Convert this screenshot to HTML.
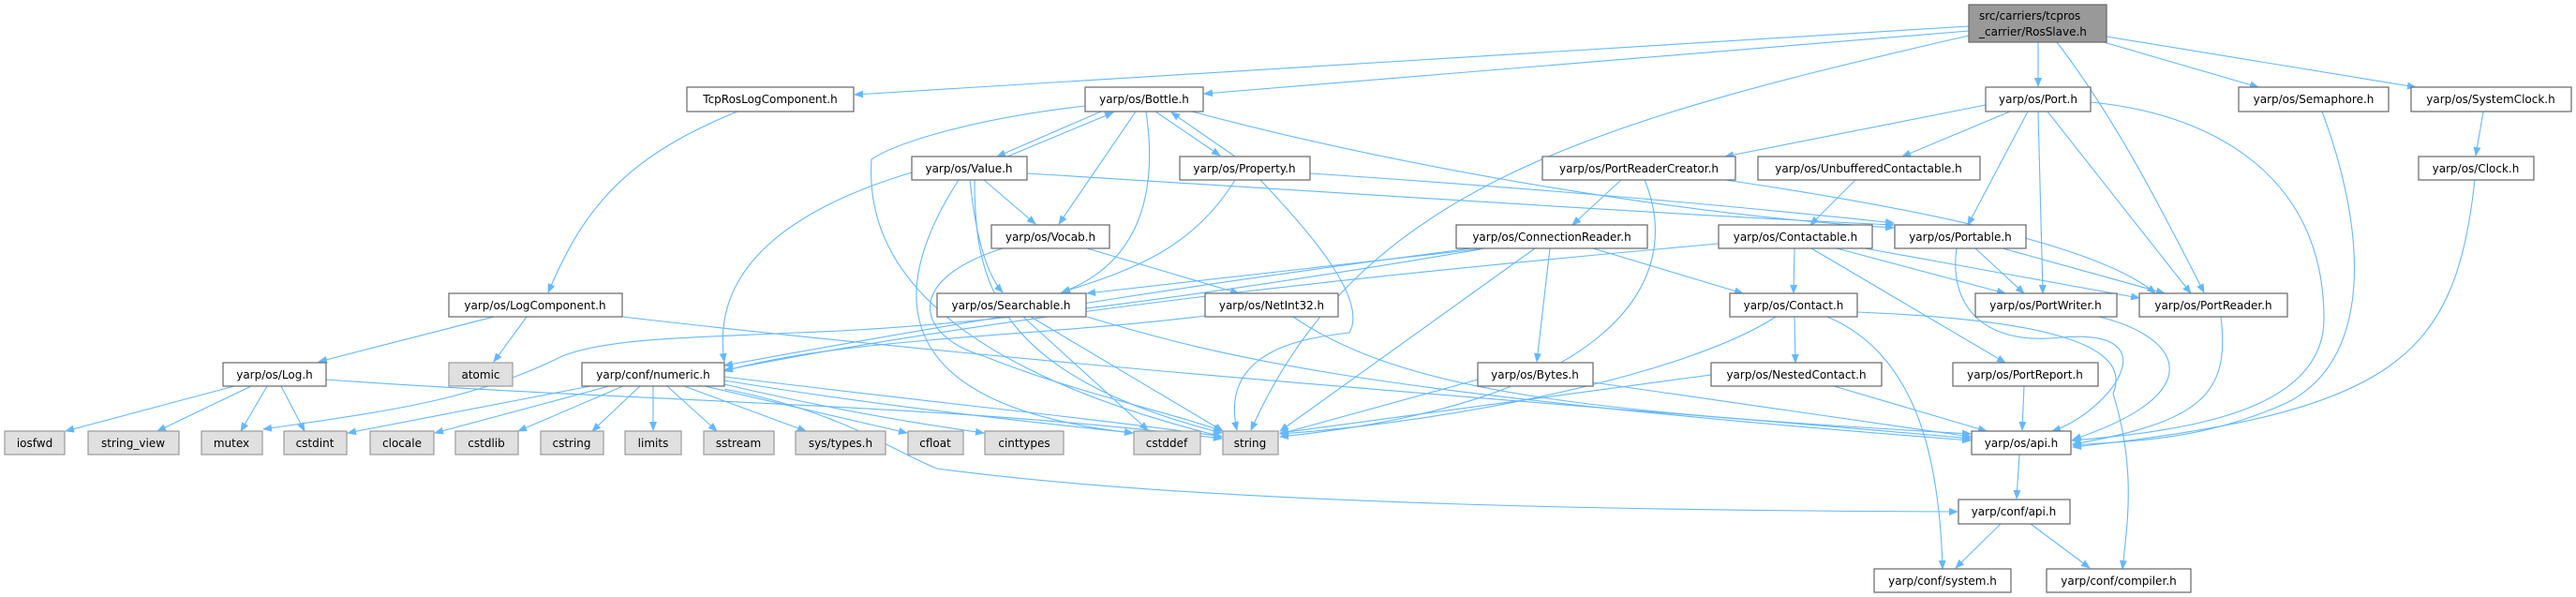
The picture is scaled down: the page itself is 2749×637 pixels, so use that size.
<!DOCTYPE html>
<html><head><meta charset="utf-8"><style>
html,body{margin:0;padding:0;background:#fff;}
svg{display:block;}
text{font-family:"DejaVu Sans","Liberation Sans",sans-serif;font-size:12px;fill:#000;}
.n{fill:#fff;stroke:#666;stroke-width:1.2;}
.s{fill:#e0e0e0;stroke:#999;stroke-width:1.2;}
.e{fill:none;stroke:#63b8ff;stroke-width:1.1;marker-end:url(#a);}
</style></head><body>
<svg width="2749" height="637" viewBox="0 0 2749 637" xmlns="http://www.w3.org/2000/svg">
<defs><marker id="a" markerWidth="10" markerHeight="8" refX="9" refY="4" orient="auto" markerUnits="userSpaceOnUse"><path d="M0,0 L10,4 L0,8 z" fill="#63b8ff"/></marker></defs>
<g>
<path class="e" d="M2101,28 L912,101"/>
<path class="e" d="M2101,33 L1285,100"/>
<path class="e" d="M2101,38 C1700,130 1450,200 1335,459"/>
<path class="e" d="M2175,45 L2175,92"/>
<path class="e" d="M2195,45 C2260,130 2310,230 2352,312"/>
<path class="e" d="M2245,45 L2410,93"/>
<path class="e" d="M2248,39 L2578,93"/>
<path class="e" d="M787,119 C660,170 620,230 585,312"/>
<path class="e" d="M527,338 L340,386"/>
<path class="e" d="M562,338 L527,386"/>
<path class="e" d="M664,338 C1200,400 1800,440 2103,468"/>
<path class="e" d="M250,412 L70,460"/>
<path class="e" d="M268,412 L168,460"/>
<path class="e" d="M285,412 L257,460"/>
<path class="e" d="M300,412 L325,460"/>
<path class="e" d="M348,405 C700,430 1000,430 1304,468"/>
<path class="e" d="M630,412 L371,462"/>
<path class="e" d="M650,412 L464,462"/>
<path class="e" d="M665,412 L553,460"/>
<path class="e" d="M683,412 L632,460"/>
<path class="e" d="M697,412 L697,459"/>
<path class="e" d="M712,412 L765,460"/>
<path class="e" d="M730,412 L860,460"/>
<path class="e" d="M752,412 L968,462"/>
<path class="e" d="M773,410 C900,440 1000,455 1050,462"/>
<path class="e" d="M773,406 C950,435 1100,450 1209,462"/>
<path class="e" d="M773,402 C1000,430 1200,450 1304,466"/>
<path class="e" d="M773,415 C900,440 950,480 1000,500 C1300,540 1800,545 2089,546"/>
<path class="e" d="M1175,119 L1064,167"/>
<path class="e" d="M1075,167 L1188,120"/>
<path class="e" d="M1233,119 L1302,166"/>
<path class="e" d="M1318,167 L1250,120"/>
<path class="e" d="M1212,119 L1130,239"/>
<path class="e" d="M1223,119 C1235,200 1220,280 1133,312"/>
<path class="e" d="M1158,113 C1050,125 960,150 930,170 C925,250 960,380 1304,466"/>
<path class="e" d="M1272,119 C1500,180 1800,230 2021,243"/>
<path class="e" d="M973,184 C820,230 760,300 773,386"/>
<path class="e" d="M1050,192 L1105,239"/>
<path class="e" d="M1035,192 C1040,240 1050,290 1070,312"/>
<path class="e" d="M1023,192 C960,290 920,430 1209,462"/>
<path class="e" d="M1040,192 C1040,300 1060,400 1304,462"/>
<path class="e" d="M1096,185 C1500,210 1800,230 2021,240"/>
<path class="e" d="M1318,192 C1270,270 1200,290 1133,312"/>
<path class="e" d="M1345,192 C1400,250 1460,320 1440,355 C1400,360 1300,370 1320,459"/>
<path class="e" d="M1398,185 C1700,205 1900,225 2021,238"/>
<path class="e" d="M1070,265 C960,300 980,360 1050,380 C1150,420 1250,440 1304,460"/>
<path class="e" d="M1160,265 L1322,313"/>
<path class="e" d="M1092,338 L1225,459"/>
<path class="e" d="M1100,338 L1305,460"/>
<path class="e" d="M1160,338 C1300,380 1450,420 2103,470"/>
<path class="e" d="M1286,337 C1100,360 900,360 773,396"/>
<path class="e" d="M1380,338 C1500,420 1700,440 2103,463"/>
<path class="e" d="M1585,265 L1160,313"/>
<path class="e" d="M1570,265 C1300,300 1100,330 773,390"/>
<path class="e" d="M1580,266 C1200,330 1000,350 850,355 C750,360 650,360 600,380 C500,430 400,440 281,458"/>
<path class="e" d="M1700,265 L1860,313"/>
<path class="e" d="M1654,265 L1640,386"/>
<path class="e" d="M1638,265 L1366,460"/>
<path class="e" d="M1730,192 L1678,240"/>
<path class="e" d="M1755,192 C1800,300 1720,430 1366,466"/>
<path class="e" d="M1841,192 C2100,230 2250,270 2300,313"/>
<path class="e" d="M2119,112 L1841,167"/>
<path class="e" d="M2145,119 L2030,167"/>
<path class="e" d="M2164,119 L2100,240"/>
<path class="e" d="M2175,119 L2180,313"/>
<path class="e" d="M2185,119 L2338,313"/>
<path class="e" d="M2231,109 C2350,120 2480,180 2480,340 C2480,440 2330,460 2211,470"/>
<path class="e" d="M1980,192 L1932,240"/>
<path class="e" d="M1834,260 C1500,290 1100,330 773,395"/>
<path class="e" d="M1915,265 L1914,313"/>
<path class="e" d="M1960,265 L2140,313"/>
<path class="e" d="M1990,265 L2283,318"/>
<path class="e" d="M1933,265 L2140,387"/>
<path class="e" d="M2108,265 L2160,313"/>
<path class="e" d="M2137,265 L2310,313"/>
<path class="e" d="M2088,265 C2080,320 2110,370 2200,360 C2320,350 2250,440 2190,460"/>
<path class="e" d="M1915,338 L1916,387"/>
<path class="e" d="M1895,338 C1800,400 1550,450 1366,463"/>
<path class="e" d="M1950,338 C2050,380 2070,500 2073,607"/>
<path class="e" d="M1982,333 C2150,340 2280,360 2255,420 C2280,500 2270,560 2265,607"/>
<path class="e" d="M1826,400 L1366,462"/>
<path class="e" d="M1957,412 L2120,460"/>
<path class="e" d="M2160,412 L2158,459"/>
<path class="e" d="M2240,338 C2330,360 2360,420 2212,469"/>
<path class="e" d="M2370,338 C2380,420 2350,450 2212,474"/>
<path class="e" d="M2478,119 C2520,230 2540,380 2440,430 C2350,470 2280,470 2212,475"/>
<path class="e" d="M2650,119 L2642,166"/>
<path class="e" d="M2641,192 C2620,380 2560,440 2212,477"/>
<path class="e" d="M1577,405 L1366,463"/>
<path class="e" d="M1700,408 L2103,466"/>
<path class="e" d="M2155,485 L2152,532"/>
<path class="e" d="M2135,559 L2087,606"/>
<path class="e" d="M2167,559 L2230,606"/>
</g>
<g>
<rect class="n" x="2101" y="5" width="147" height="40" style="fill:#999"/>
<text x="2112" y="21">src/carriers/tcpros</text><text x="2112" y="38">_carrier/RosSlave.h</text>
<rect class="n" x="733" y="93" width="178" height="26"/><text x="822" y="110" text-anchor="middle">TcpRosLogComponent.h</text>
<rect class="n" x="1158" y="93" width="126" height="26"/><text x="1221" y="110" text-anchor="middle">yarp/os/Bottle.h</text>
<rect class="n" x="2119" y="93" width="112" height="26"/><text x="2175" y="110" text-anchor="middle">yarp/os/Port.h</text>
<rect class="n" x="2389" y="93" width="160" height="26"/><text x="2469" y="110" text-anchor="middle">yarp/os/Semaphore.h</text>
<rect class="n" x="2573" y="93" width="171" height="26"/><text x="2658" y="110" text-anchor="middle">yarp/os/SystemClock.h</text>
<rect class="n" x="973" y="167" width="123" height="25"/><text x="1034" y="184" text-anchor="middle">yarp/os/Value.h</text>
<rect class="n" x="1259" y="167" width="139" height="25"/><text x="1328" y="184" text-anchor="middle">yarp/os/Property.h</text>
<rect class="n" x="1646" y="167" width="206" height="25"/><text x="1749" y="184" text-anchor="middle">yarp/os/PortReaderCreator.h</text>
<rect class="n" x="1876" y="167" width="237" height="25"/><text x="1994" y="184" text-anchor="middle">yarp/os/UnbufferedContactable.h</text>
<rect class="n" x="2581" y="167" width="123" height="25"/><text x="2642" y="184" text-anchor="middle">yarp/os/Clock.h</text>
<rect class="n" x="1058" y="240" width="126" height="25"/><text x="1121" y="257" text-anchor="middle">yarp/os/Vocab.h</text>
<rect class="n" x="1554" y="240" width="204" height="25"/><text x="1656" y="257" text-anchor="middle">yarp/os/ConnectionReader.h</text>
<rect class="n" x="1834" y="240" width="164" height="25"/><text x="1916" y="257" text-anchor="middle">yarp/os/Contactable.h</text>
<rect class="n" x="2022" y="240" width="140" height="25"/><text x="2092" y="257" text-anchor="middle">yarp/os/Portable.h</text>
<rect class="n" x="479" y="313" width="185" height="25"/><text x="571" y="330" text-anchor="middle">yarp/os/LogComponent.h</text>
<rect class="n" x="1000" y="313" width="159" height="25"/><text x="1079" y="330" text-anchor="middle">yarp/os/Searchable.h</text>
<rect class="n" x="1286" y="313" width="142" height="25"/><text x="1357" y="330" text-anchor="middle">yarp/os/NetInt32.h</text>
<rect class="n" x="1846" y="313" width="136" height="25"/><text x="1914" y="330" text-anchor="middle">yarp/os/Contact.h</text>
<rect class="n" x="2108" y="313" width="151" height="25"/><text x="2183" y="330" text-anchor="middle">yarp/os/PortWriter.h</text>
<rect class="n" x="2283" y="313" width="158" height="25"/><text x="2362" y="330" text-anchor="middle">yarp/os/PortReader.h</text>
<rect class="n" x="238" y="387" width="110" height="25"/><text x="293" y="404" text-anchor="middle">yarp/os/Log.h</text>
<rect class="s" x="479" y="387" width="68" height="25"/><text x="513" y="404" text-anchor="middle">atomic</text>
<rect class="n" x="621" y="387" width="152" height="25"/><text x="697" y="404" text-anchor="middle">yarp/conf/numeric.h</text>
<rect class="n" x="1577" y="387" width="123" height="25"/><text x="1638" y="404" text-anchor="middle">yarp/os/Bytes.h</text>
<rect class="n" x="1826" y="387" width="182" height="25"/><text x="1917" y="404" text-anchor="middle">yarp/os/NestedContact.h</text>
<rect class="n" x="2084" y="387" width="155" height="25"/><text x="2161" y="404" text-anchor="middle">yarp/os/PortReport.h</text>
<rect class="s" x="5" y="460" width="64" height="25"/><text x="37" y="477" text-anchor="middle">iosfwd</text>
<rect class="s" x="94" y="460" width="97" height="25"/><text x="142" y="477" text-anchor="middle">string_view</text>
<rect class="s" x="215" y="460" width="65" height="25"/><text x="247" y="477" text-anchor="middle">mutex</text>
<rect class="s" x="303" y="460" width="67" height="25"/><text x="336" y="477" text-anchor="middle">cstdint</text>
<rect class="s" x="395" y="460" width="68" height="25"/><text x="429" y="477" text-anchor="middle">clocale</text>
<rect class="s" x="486" y="460" width="67" height="25"/><text x="519" y="477" text-anchor="middle">cstdlib</text>
<rect class="s" x="577" y="460" width="67" height="25"/><text x="610" y="477" text-anchor="middle">cstring</text>
<rect class="s" x="667" y="460" width="60" height="25"/><text x="697" y="477" text-anchor="middle">limits</text>
<rect class="s" x="751" y="460" width="75" height="25"/><text x="788" y="477" text-anchor="middle">sstream</text>
<rect class="s" x="849" y="460" width="96" height="25"/><text x="897" y="477" text-anchor="middle">sys/types.h</text>
<rect class="s" x="969" y="460" width="59" height="25"/><text x="998" y="477" text-anchor="middle">cfloat</text>
<rect class="s" x="1051" y="460" width="84" height="25"/><text x="1093" y="477" text-anchor="middle">cinttypes</text>
<rect class="s" x="1210" y="460" width="71" height="25"/><text x="1245" y="477" text-anchor="middle">cstddef</text>
<rect class="s" x="1305" y="460" width="59" height="25"/><text x="1334" y="477" text-anchor="middle">string</text>
<rect class="n" x="2104" y="460" width="106" height="25"/><text x="2157" y="477" text-anchor="middle">yarp/os/api.h</text>
<rect class="n" x="2090" y="533" width="119" height="26"/><text x="2149" y="550" text-anchor="middle">yarp/conf/api.h</text>
<rect class="n" x="2000" y="607" width="146" height="25"/><text x="2073" y="624" text-anchor="middle">yarp/conf/system.h</text>
<rect class="n" x="2184" y="607" width="154" height="25"/><text x="2261" y="624" text-anchor="middle">yarp/conf/compiler.h</text>
</g>
</svg>
</body></html>
